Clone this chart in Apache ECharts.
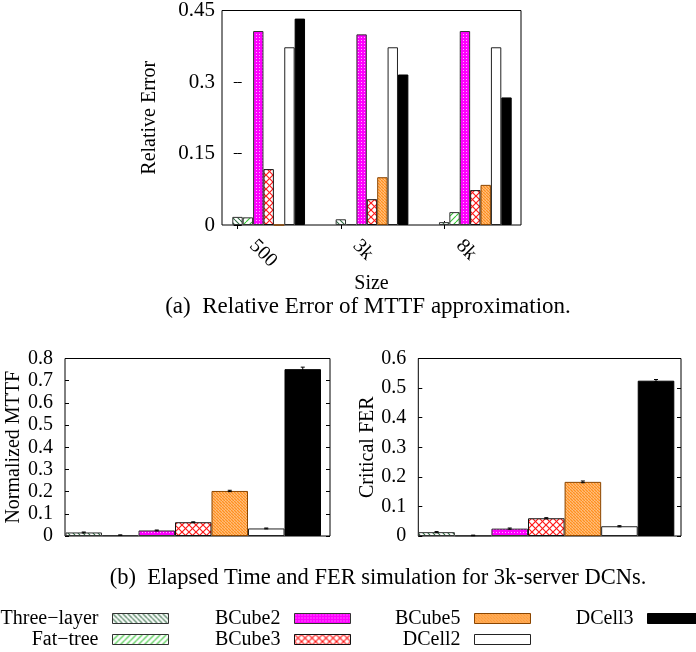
<!DOCTYPE html>
<html><head><meta charset="utf-8">
<script src="https://cdn.jsdelivr.net/npm/echarts@6/dist/echarts.min.js"></script>
<style>html,body{margin:0;padding:0;background:#fff}#c{width:696px;height:652px}</style>
</head><body><div id="c"></div>
<script>
// ---------- data ----------
const seriesNames = ['Three\u2212layer', 'Fat\u2212tree', 'BCube2', 'BCube3', 'BCube5', 'DCell2', 'DCell3'];
const sizes = ['500', '3k', '8k'];
// (a) relative error per DCN, per size [500, 3k, 8k]
const threeLayerRE = [0.017, 0.012, 0.006];
const fatTreeRE    = [0.016, 0.002, 0.027];
const bcube2RE     = [0.406, 0.399, 0.406];
const bcube3RE     = [0.117, 0.054, 0.073];
const bcube5RE     = [0,     0.100, 0.084];
const dcell2RE     = [0.372, 0.372, 0.372];
const dcell3RE     = [0.432, 0.315, 0.267];
// (b) 3k-server simulations, one value per DCN (same order as seriesNames)
const mttf    = [0.016, 0.004, 0.025, 0.062, 0.203, 0.034, 0.752];
const mttfErr = [0.002, 0.001, 0.002, 0.002, 0.003, 0.002, 0.009];
const fer     = [0.013, 0.002, 0.025, 0.060, 0.183, 0.033, 0.525];
const ferErr  = [0.002, 0.001, 0.002, 0.002, 0.003, 0.002, 0.004];
const sizeTickValues = [0, 1, 2];

const reData = [threeLayerRE, fatTreeRE, bcube2RE, bcube3RE, bcube5RE, dcell2RE, dcell3RE];

// ---------- patterns ----------
function pat(n, bg, draw) {
  const c = document.createElement('canvas');
  c.width = n; c.height = n;
  const g = c.getContext('2d');
  g.fillStyle = bg; g.fillRect(0, 0, n, n);
  draw(g, n);
  return { image: c, repeat: 'repeat' };
}
function back(g, n, col, lw) { // "\" lines
  g.strokeStyle = col; g.lineWidth = lw; g.beginPath();
  for (const k of [-n, 0, n]) { g.moveTo(k, 0); g.lineTo(k + n, n); }
  g.stroke();
}
function fwd(g, n, col, lw) { // "/" lines
  g.strokeStyle = col; g.lineWidth = lw; g.beginPath();
  for (const k of [-n, 0, n]) { g.moveTo(k + n, 0); g.lineTo(k, n); }
  g.stroke();
}
const fills = [
  pat(5, '#ffffff', (g, n) => back(g, n, '#2f6b40', 1.1)),
  pat(6, '#ffffff', (g, n) => fwd(g, n, '#33c433', 1.1)),
  pat(3, '#ff00ff', (g) => { g.fillStyle = '#ffb0ff'; g.fillRect(1, 1, 1, 1); }),
  pat(7, '#ffffff', (g, n) => { back(g, n, '#ff1a1a', 1.2); fwd(g, n, '#ff1a1a', 1.2); }),
  pat(3, '#ffd0a0', (g, n) => back(g, n, '#ff8f1f', 1.5)),
  '#ffffff',
  '#000000'
];
const borders = ['#333', '#333', '#333', '#111', '#8a4500', '#222', '#000'];

const FONT = 'Liberation Serif';
const tickStyle = { color: '#000', width: 1 };
const lbl = { fontFamily: FONT, fontSize: 20, color: '#000' };
const lblTop = { fontFamily: FONT, fontSize: 21, color: '#000' };

// ---------- axes ----------
const xAxis = [
  // 0: top frame, bottom ticks and labels
  { gridIndex: 0, type: 'value', min: -0.152, max: 2.742,
    axisLine: { show: false }, splitLine: { show: false },
    axisTick: { show: true, inside: true, length: 4, customValues: sizeTickValues, lineStyle: tickStyle },
    axisLabel: { customValues: sizeTickValues, formatter: v => sizes[Math.round(v)], rotate: -45,
      margin: 3, padding: [0, 0, 0, 21], ...lbl },
    name: 'Size', nameLocation: 'middle', nameGap: 38, nameTextStyle: lbl },
  // 1: top frame, mirrored top ticks
  { gridIndex: 0, type: 'value', position: 'top', min: -0.152, max: 2.742,
    axisLine: { show: false }, splitLine: { show: false },
    axisTick: { show: true, inside: true, length: 4, customValues: sizeTickValues, lineStyle: tickStyle },
    axisLabel: { show: false } },
  // 2: top bars
  { gridIndex: 1, type: 'category', data: sizes, show: false },
  // 3: bottom-left frame
  { gridIndex: 2, type: 'value', min: 0, max: 1, show: false },
  // 4: bottom-left bars
  { gridIndex: 3, type: 'category', data: seriesNames, show: false },
  // 5: bottom-right frame
  { gridIndex: 4, type: 'value', min: 0, max: 1, show: false },
  // 6: bottom-right bars
  { gridIndex: 5, type: 'category', data: seriesNames, show: false }
];

function yPair(grid, max, interval, name, nameGap, margin, tickFont) {
  return [
    { gridIndex: grid, type: 'value', min: 0, max: max, interval: interval,
      axisLine: { show: false }, splitLine: { show: false },
      axisTick: { show: true, inside: true, length: 4, lineStyle: tickStyle },
      axisLabel: { margin: margin, ...tickFont },
      name: name, nameLocation: 'middle', nameRotate: 90, nameGap: nameGap, nameTextStyle: lbl },
    { gridIndex: grid, type: 'value', position: 'right', min: 0, max: max, interval: interval,
      axisLine: { show: false }, splitLine: { show: false },
      axisTick: { show: true, inside: true, length: 4, lineStyle: tickStyle },
      axisLabel: { show: false } },
  ];
}
const yAxis = [
  ...yPair(0, 0.45, 0.15, 'Relative Error', 62, 7, lblTop),        // 0,1
  { gridIndex: 1, type: 'value', min: 0, max: 0.45, show: false },  // 2
  ...yPair(2, 0.8, 0.1, 'Normalized MTTF', 38, 12, lbl),            // 3,4
  { gridIndex: 3, type: 'value', min: 0, max: 0.8, show: false },   // 5
  ...yPair(4, 0.6, 0.1, 'Critical FER', 37, 12, lbl),               // 6,7
  { gridIndex: 5, type: 'value', min: 0, max: 0.6, show: false }    // 8
];

// ---------- series ----------
const series = [];
seriesNames.forEach((nm, i) => {
  const itemStyle = { color: fills[i], borderColor: borders[i], borderWidth: 1 };
  series.push({ type: 'bar', name: nm, xAxisIndex: 2, yAxisIndex: 2, data: reData[i],
    barWidth: 10.39, barGap: '0%', itemStyle, animation: false });
  series.push({ type: 'bar', name: nm, xAxisIndex: 4, yAxisIndex: 5,
    data: seriesNames.map((_, j) => j === i ? mttf[i] : null),
    barWidth: '100%', barGap: '-100%', itemStyle, animation: false });
  series.push({ type: 'bar', name: nm, xAxisIndex: 6, yAxisIndex: 8,
    data: seriesNames.map((_, j) => j === i ? fer[i] : null),
    barWidth: '100%', barGap: '-100%', itemStyle, animation: false });
});
function errBars(xi, yi, vals, errs) {
  return { type: 'custom', xAxisIndex: xi, yAxisIndex: yi, z: 10, animation: false,
    data: vals.map((v, i) => [i, v - errs[i], v + errs[i]]),
    renderItem: (params, api) => {
      const lo = api.coord([api.value(0), api.value(1)]);
      const hi = api.coord([api.value(0), api.value(2)]);
      const hw = 2;
      const st = { stroke: '#000', lineWidth: 1 };
      return { type: 'group', children: [
        { type: 'line', shape: { x1: lo[0], y1: lo[1], x2: hi[0], y2: hi[1] }, style: st },
        { type: 'line', shape: { x1: lo[0] - hw, y1: lo[1], x2: lo[0] + hw, y2: lo[1] }, style: st },
        { type: 'line', shape: { x1: hi[0] - hw, y1: hi[1], x2: hi[0] + hw, y2: hi[1] }, style: st }
      ]};
    } };
}
series.push(errBars(4, 5, mttf, mttfErr));
series.push(errBars(6, 8, fer, ferErr));

// ---------- legend ----------
function leg(names, right) {
  return { data: names, orient: 'vertical', align: 'right', right: right, top: 608,
    itemWidth: 56, itemHeight: 10, itemGap: 0, icon: 'rect', padding: 0, selectedMode: false,
    itemStyle: { borderWidth: 1 },
    textStyle: { fontFamily: FONT, fontSize: 20, color: '#000', lineHeight: 21, padding: [0, 9, 0, 0] } };
}

const option = {
  backgroundColor: '#fff',
  animation: false,
  grid: [
    { left: 222, top: 10, width: 299, height: 215, show: true, borderColor: '#000', borderWidth: 1 },
    { left: 217, top: 10, width: 310, height: 215 },
    { left: 65, top: 358.5, width: 265, height: 177.5, show: true, borderColor: '#000', borderWidth: 1 },
    { left: 65.5, top: 358.5, width: 255.5, height: 177.5 },
    { left: 418.3, top: 358.5, width: 262.7, height: 177.5, show: true, borderColor: '#000', borderWidth: 1 },
    { left: 418.3, top: 358.5, width: 256, height: 177.5 }
  ],
  xAxis, yAxis, series,
  legend: [
    leg([seriesNames[0], seriesNames[1]], 527),
    leg([seriesNames[2], seriesNames[3]], 345),
    leg([seriesNames[4], seriesNames[5]], 165),
    leg([seriesNames[6]], -8)
  ],
  graphic: [
    { type: 'text', x: 368, y: 307, style: { text: '(a)  Relative Error of MTTF approximation.',
      font: '23px "Liberation Serif"', fill: '#000', align: 'center', verticalAlign: 'middle' } },
    { type: 'text', x: 378, y: 578, style: { text: '(b)  Elapsed Time and FER simulation for 3k-server DCNs.',
      font: '22.5px "Liberation Serif"', fill: '#000', align: 'center', verticalAlign: 'middle' } }
  ]
};
const chart = echarts.init(document.getElementById('c'), null, { renderer: 'canvas' });
chart.setOption(option);
</script>
</body></html>
